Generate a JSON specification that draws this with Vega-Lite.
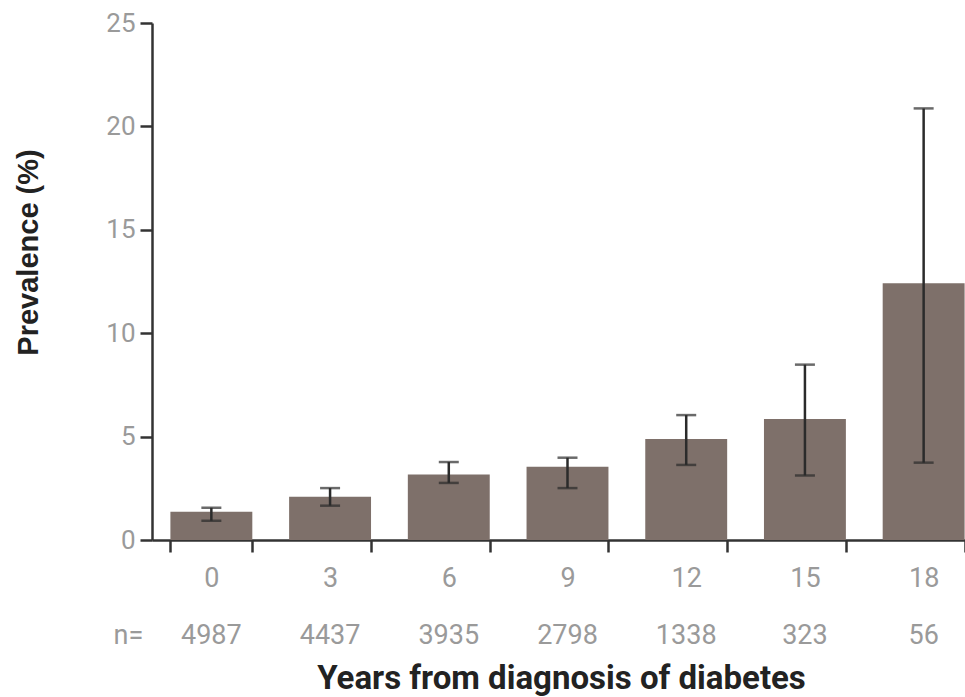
{
  "$schema": "https://vega.github.io/schema/vega-lite/v6.json",
  "width": 813,
  "height": 517,
  "autosize": {"type": "none"},
  "padding": {"left": 152, "top": 23, "right": 0, "bottom": 157},
  "background": "white",
  "config": {"view": {"stroke": null}},
  "data": {
    "values": [
      {"year": 0, "prev": 1.37, "lo": 0.93, "hi": 1.56, "n": 4987},
      {"year": 3, "prev": 2.09, "lo": 1.66, "hi": 2.51, "n": 4437},
      {"year": 6, "prev": 3.17, "lo": 2.76, "hi": 3.77, "n": 3935},
      {"year": 9, "prev": 3.54, "lo": 2.51, "hi": 3.98, "n": 2798},
      {"year": 12, "prev": 4.88, "lo": 3.63, "hi": 6.04, "n": 1338},
      {"year": 15, "prev": 5.85, "lo": 3.12, "hi": 8.48, "n": 323},
      {"year": 18, "prev": 12.41, "lo": 3.74, "hi": 20.87, "n": 56}
    ]
  },
  "encoding": {
    "x": {
      "field": "year",
      "type": "ordinal",
      "scale": {"range": [0, 831], "paddingInner": 0.31, "paddingOuter": 0.155},
      "axis": {
        "title": "Years from diagnosis of diabetes",
        "labelAngle": 0,
        "tickBand": "extent",
        "domainColor": "#333333",
        "domainWidth": 2.5,
        "tickColor": "#333333",
        "tickWidth": 2.5,
        "tickSize": 12,
        "labelPadding": 13,
        "labelFont": "Roboto, sans-serif",
        "labelFontSize": 27,
        "labelColor": "#9a9a9a",
        "titleFont": "Roboto, sans-serif",
        "titleFontSize": 33,
        "titleFontWeight": "bold",
        "titleColor": "#222222",
        "titleX": 409,
        "titleY": 148,
        "titleBaseline": "alphabetic",
        "titleAlign": "center"
      }
    }
  },
  "layer": [
    {
      "mark": {"type": "bar", "color": "#7e706a"},
      "encoding": {
        "y": {
          "field": "prev",
          "type": "quantitative",
          "scale": {"domain": [0, 25], "nice": false},
          "axis": {
            "title": "Prevalence (%)",
            "values": [0, 5, 10, 15, 20, 25],
            "grid": false,
            "domainColor": "#333333",
            "domainWidth": 2.5,
            "tickColor": "#333333",
            "tickWidth": 2.5,
            "tickSize": 12,
            "labelPadding": 5,
            "labelFont": "Roboto, sans-serif",
            "labelFontSize": 26,
            "labelColor": "#9a9a9a",
            "titleFont": "'Liberation Sans', Arial, sans-serif",
            "titleFontSize": 29,
            "titleFontWeight": "bold",
            "titleColor": "#222222",
            "titleAngle": -90,
            "titleX": -124,
            "titleY": 229,
            "titleBaseline": "middle",
            "titleAlign": "center"
          }
        }
      }
    },
    {
      "mark": {"type": "rule", "color": "#2b2b2b", "strokeWidth": 2.5},
      "encoding": {
        "y": {"field": "lo", "type": "quantitative"},
        "y2": {"field": "hi"}
      }
    },
    {
      "mark": {"type": "tick", "color": "#2b2b2b", "thickness": 2.5, "size": 20, "orient": "horizontal"},
      "encoding": {"y": {"field": "lo", "type": "quantitative"}}
    },
    {
      "mark": {"type": "tick", "color": "#2b2b2b", "thickness": 2.5, "size": 20, "orient": "horizontal"},
      "encoding": {"y": {"field": "hi", "type": "quantitative"}}
    },
    {
      "mark": {"type": "text", "baseline": "middle", "align": "center", "font": "Roboto, sans-serif", "fontSize": 27, "color": "#9a9a9a"},
      "encoding": {
        "y": {"datum": -4.65, "type": "quantitative"},
        "text": {"field": "n", "type": "nominal"}
      }
    },
    {
      "data": {"values": [{"label": "n=", "year": 0}]},
      "mark": {"type": "text", "baseline": "middle", "align": "center", "dx": -83, "font": "Roboto, sans-serif", "fontSize": 27, "color": "#9a9a9a"},
      "encoding": {
        "y": {"datum": -4.65, "type": "quantitative"},
        "text": {"field": "label", "type": "nominal"}
      }
    }
  ]
}
